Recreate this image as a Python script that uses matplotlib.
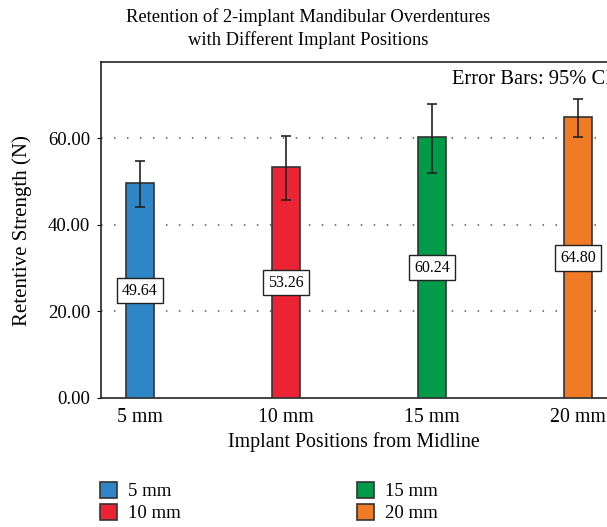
import matplotlib
matplotlib.use("Agg")
import matplotlib.pyplot as plt
from matplotlib.patches import Patch

categories = ["5 mm", "10 mm", "15 mm", "20 mm"]
means = [49.64, 53.26, 60.24, 64.80]
ci_low = [44.2, 45.7, 52.0, 60.2]
ci_high = [54.8, 60.5, 67.8, 69.0]
colors = ["#2F86C6", "#EC2235", "#009B48", "#F07A26"]
yticks = [0, 20, 40, 60]

plt.rcParams['font.family'] = ['Liberation Serif', 'DejaVu Serif']

fig = plt.figure(figsize=(6.07, 5.27), dpi=100)
ax = fig.add_axes([101/607, (527-398)/527, 555/607, 336/527])

x = list(range(len(categories)))
ax.bar(x, means, width=0.19, color=colors, edgecolor="#333333", linewidth=1.2, zorder=3)
yerr = [[m - l for m, l in zip(means, ci_low)], [h - m for m, h in zip(means, ci_high)]]
ax.errorbar(x, means, yerr=yerr, fmt='none', ecolor="#222222", elinewidth=1.2,
            capsize=3.6, capthick=1.2, zorder=4)

for xi, m in zip(x, means):
    ax.text(xi, m/2, f"{m:.2f}", ha='center', va='center', fontsize=11.5, zorder=5,
            bbox=dict(boxstyle='square,pad=0.3', fc='white', ec='#222222', lw=1.0))

ax.set_xlim(-0.267, 3.534)
ax.set_ylim(0, 77.6)
ax.set_yticks(yticks)
ax.set_yticklabels([f"{v:.2f}" for v in yticks], fontsize=13.5)
ax.set_xticks(x)
ax.set_xticklabels(categories, fontsize=14.3)
ax.tick_params(axis='x', length=0, pad=7)
ax.tick_params(axis='y', length=3, pad=5)
for yv in yticks[1:]:
    ax.axhline(yv, color='#555555', linestyle=(0, (1, 7.5)), linewidth=1.1, zorder=1)
for s in ax.spines.values():
    s.set_color('#222222')
    s.set_linewidth(1.2)

fig.text(452/607, 1 - 80/527, "Error Bars: 95% CI", ha='left', va='center', fontsize=14.8)

fig.text(308/607, 1 - 17/527, "Retention of 2-implant Mandibular Overdentures", ha='center', va='center', fontsize=13.3)
fig.text(308/607, 1 - 40/527, "with Different Implant Positions", ha='center', va='center', fontsize=13.3)
fig.text(354/607, 1 - 442/527, "Implant Positions from Midline", ha='center', va='center', fontsize=14.3)
fig.text(22/607, 1 - 231/527, "Retentive Strength (N)", ha='center', va='center', rotation=90, fontsize=15)

handles = [Patch(facecolor=c, edgecolor='#333333', linewidth=1.2) for c in colors]
leg = fig.legend(handles, categories, ncol=2,
                 loc='upper left', bbox_to_anchor=(87/607, 1 - 469/527), frameon=False,
                 fontsize=13.5, handlelength=0.9, handleheight=0.9, handletextpad=0.6,
                 columnspacing=9.4, labelspacing=0.2, borderpad=0.2)

fig.savefig("out.png", dpi=100)
